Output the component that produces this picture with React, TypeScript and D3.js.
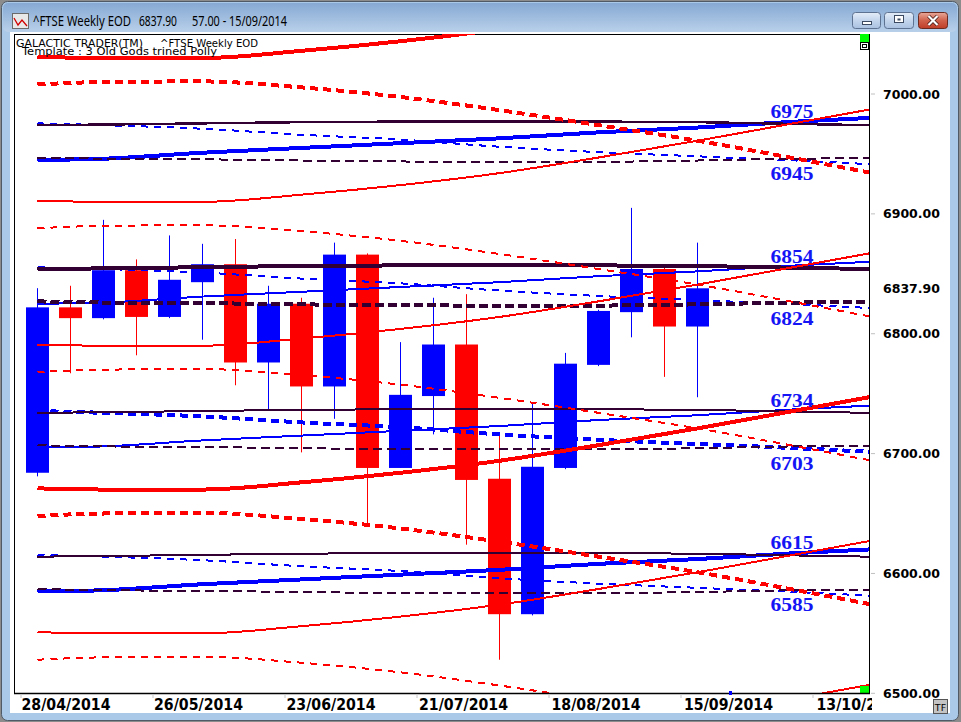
import React from 'react';
import * as d3 from 'd3';

// ---------- data ----------
const candleDates = [
  '28/04/2014', '05/05/2014', '12/05/2014', '19/05/2014', '26/05/2014', '02/06/2014', '09/06/2014',
  '16/06/2014', '23/06/2014', '30/06/2014', '07/07/2014', '14/07/2014', '21/07/2014', '28/07/2014',
  '04/08/2014', '11/08/2014', '18/08/2014', '25/08/2014', '01/09/2014', '08/09/2014', '15/09/2014',
];
const opens = [6684, 6822, 6813, 6853, 6814, 6843, 6858, 6776, 6825, 6756, 6866, 6688, 6748, 6791, 6679, 6566, 6688, 6774, 6818, 6854, 6806];
const highs = [6838, 6840, 6895, 6862, 6882, 6875, 6879, 6840, 6830, 6876, 6867, 6793, 6830, 6833, 6715, 6743, 6784, 6820, 6905, 6855, 6876];
const lows = [6681, 6767, 6812, 6782, 6813, 6795, 6757, 6736, 6701, 6729, 6642, 6688, 6716, 6624, 6528, 6565, 6687, 6773, 6797, 6764, 6747];
const closes = [6822, 6813, 6853, 6814, 6845, 6858, 6776, 6825, 6756, 6866, 6688, 6749, 6791, 6678, 6566, 6689, 6775, 6819, 6854, 6806, 6837.9];

// week positions at which the projection lines were read
const lineWeeks = [0, 2, 5, 8, 11, 14, 17, 20, 23, 25.2];

const redSolid0 = [7031, 7030, 7030, 7036, 7044, 7054, 7067, 7081, 7096, 7107];
const redSolid1 = [6911, 6910, 6910, 6916, 6924, 6934, 6947, 6961, 6976, 6987];
const redSolid2 = [6791, 6790, 6790, 6796, 6804, 6814, 6827, 6841, 6856, 6867];
const redSolid3 = [6671, 6670, 6670, 6676, 6684, 6694, 6707, 6721, 6736, 6747];
const redSolid4 = [6551, 6550, 6550, 6556, 6564, 6574, 6587, 6601, 6616, 6627];
const redSolid5 = [6431, 6430, 6430, 6436, 6444, 6454, 6467, 6481, 6496, 6507];

const redDash0 = [7008, 7010, 7010.5, 7005.5, 6997.5, 6986.5, 6974, 6961, 6946, 6934.5];
const redDash1 = [6888, 6890, 6890.5, 6885.5, 6877.5, 6866.5, 6854, 6841, 6826, 6814.5];
const redDash2 = [6768, 6770, 6770.5, 6765.5, 6757.5, 6746.5, 6734, 6721, 6706, 6694.5];
const redDash3 = [6648, 6650, 6650.5, 6645.5, 6637.5, 6626.5, 6614, 6601, 6586, 6574.5];
const redDash4 = [6528, 6530, 6530.5, 6525.5, 6517.5, 6506.5, 6494, 6481, 6466, 6454.5];

const blueSolid0 = [6945, 6946, 6951, 6955, 6959, 6963, 6968, 6972, 6977, 6980];
const blueSolid1 = [6825, 6826, 6831, 6835, 6839, 6843, 6848, 6852, 6857, 6860];
const blueSolid2 = [6705, 6706, 6711, 6715, 6719, 6723, 6728, 6732, 6737, 6740];
const blueSolid3 = [6585, 6586, 6591, 6595, 6599, 6603, 6608, 6612, 6617, 6620];

const blueDash0 = [6975.5, 6974, 6971, 6966, 6962, 6956, 6951.5, 6948, 6944.5, 6941.5];
const blueDash1 = [6855.5, 6854, 6851, 6846, 6842, 6836, 6831.5, 6828, 6824.5, 6821.5];
const blueDash2 = [6735.5, 6734, 6731, 6726, 6722, 6716, 6711.5, 6708, 6704.5, 6701.5];
const blueDash3 = [6615.5, 6614, 6611, 6606, 6602, 6596, 6591.5, 6588, 6584.5, 6581.5];

const darkSolid0 = [6974, 6974.5, 6975.5, 6976.5, 6977, 6977, 6977, 6976.5, 6975, 6974];
const darkSolid1 = [6854, 6854.5, 6855.5, 6856.5, 6857, 6857, 6857, 6856.5, 6855, 6854];
const darkSolid2 = [6734, 6734.5, 6735.5, 6736.5, 6737, 6737, 6737, 6736.5, 6735, 6734];
const darkSolid3 = [6614, 6614.5, 6615.5, 6616.5, 6617, 6617, 6617, 6616.5, 6615, 6614];

const darkDash0 = [6947, 6946, 6945.5, 6944.5, 6943.7, 6943.5, 6943.5, 6944.5, 6946, 6946.5];
const darkDash1 = [6827, 6826, 6825.5, 6824.5, 6823.7, 6823.5, 6823.5, 6824.5, 6826, 6826.5];
const darkDash2 = [6707, 6706, 6705.5, 6704.5, 6703.7, 6703.5, 6703.5, 6704.5, 6706, 6706.5];
const darkDash3 = [6587, 6586, 6585.5, 6584.5, 6583.7, 6583.5, 6583.5, 6584.5, 6586, 6586.5];

const levelLabels = [6975, 6945, 6854, 6824, 6734, 6703, 6615, 6585];
const priceTicks = [7000, 6900, 6800, 6700, 6600, 6500];
const lastClose = 6837.9;
const dateTickWeeks = [0, 4, 8, 12, 16, 20, 24];
const dateTickLabels = ['28/04/2014', '26/05/2014', '23/06/2014', '21/07/2014', '18/08/2014', '15/09/2014', '13/10/2014'];
const currentWeek = 21;

// ---------- styles ----------
const RED = '#ff0000';
const BLUE = '#0000ff';
const DARK = '#330033';
const THICK = 4;
const THIN = 2;

type Series = { vals: number[]; color: string; w: number; dash?: string };
const series: Series[] = [
  { vals: blueSolid0, color: BLUE, w: THICK },
  { vals: blueSolid1, color: BLUE, w: THIN },
  { vals: blueSolid2, color: BLUE, w: THIN },
  { vals: blueSolid3, color: BLUE, w: THICK },
  { vals: blueDash0, color: BLUE, w: THIN, dash: '7 6' },
  { vals: blueDash1, color: BLUE, w: THIN, dash: '7 6' },
  { vals: blueDash2, color: BLUE, w: THICK, dash: '8 5' },
  { vals: blueDash3, color: BLUE, w: THIN, dash: '7 6' },
  { vals: darkSolid0, color: DARK, w: 2.4 },
  { vals: darkSolid1, color: DARK, w: THICK },
  { vals: darkSolid2, color: DARK, w: THIN },
  { vals: darkSolid3, color: DARK, w: THIN },
  { vals: darkDash0, color: DARK, w: THIN, dash: '9 5' },
  { vals: darkDash1, color: DARK, w: THICK, dash: '9 4' },
  { vals: darkDash2, color: DARK, w: THIN, dash: '9 5' },
  { vals: darkDash3, color: DARK, w: THIN, dash: '9 5' },
  { vals: redSolid0, color: RED, w: THICK },
  { vals: redSolid1, color: RED, w: THIN },
  { vals: redSolid2, color: RED, w: THIN },
  { vals: redSolid3, color: RED, w: THICK },
  { vals: redSolid4, color: RED, w: THIN },
  { vals: redSolid5, color: RED, w: THIN },
  { vals: redDash0, color: RED, w: THICK, dash: '8 5' },
  { vals: redDash1, color: RED, w: THIN, dash: '7 6' },
  { vals: redDash2, color: RED, w: THIN, dash: '7 6' },
  { vals: redDash3, color: RED, w: THICK, dash: '8 5' },
  { vals: redDash4, color: RED, w: THIN, dash: '7 6' },
];

const PL = 14, PR = 869, PT = 34, PB = 693;

export default function App() {
  const x = d3.scaleLinear().domain([0, 20]).range([37.5, 697.5]);
  const y = d3.scaleLinear().domain([6500, 7000]).range([693.3, 94]);
  const lineGen = d3
    .line<number>()
    .x((_, i) => x(lineWeeks[i]))
    .y((v) => y(v))
    .curve(d3.curveMonotoneX);
  const bodyW = 23;

  return (
    <svg width={961} height={722} style={{ position: 'absolute', left: 0, top: 0 }} xmlns="http://www.w3.org/2000/svg">
      <defs>
        <linearGradient id="titleG" x1="0" y1="0" x2="0" y2="1">
          <stop offset="0" stopColor="#86a9d3" />
          <stop offset="1" stopColor="#b9d0ea" />
        </linearGradient>
        <linearGradient id="btnG" x1="0" y1="0" x2="0" y2="1">
          <stop offset="0" stopColor="#e4edf8" />
          <stop offset="0.5" stopColor="#c3d5ec" />
          <stop offset="1" stopColor="#a9c1e0" />
        </linearGradient>
        <linearGradient id="closeG" x1="0" y1="0" x2="0" y2="1">
          <stop offset="0" stopColor="#e9a99a" />
          <stop offset="0.5" stopColor="#d0614b" />
          <stop offset="1" stopColor="#bf3d28" />
        </linearGradient>
        <clipPath id="plotClip">
          <rect x={PL} y={PT} width={PR - PL} height={PB - PT} />
        </clipPath>
        <clipPath id="dateClip">
          <rect x={10} y={694} width={862} height={20} />
        </clipPath>
      </defs>

      {/* window chrome */}
      <rect x={0} y={0} width={961} height={722} fill="#8c8c8c" />
      <rect x={1.5} y={1.5} width={957} height={719} rx={6} fill="#aac8e7" stroke="#505a66" />
      <rect x={3} y={3} width={954} height={29} rx={5} fill="url(#titleG)" />
      <rect x={10} y={32} width={940} height={681} fill="#ffffff" />

      {/* title icon */}
      <rect x={12.5} y={13.5} width={16} height={15} fill="#e8e8e8" stroke="#6b6b6b" />
      <polyline points="14,18 18,25 22,20 27,26" fill="none" stroke="#d00000" strokeWidth={1.3} />
      <text x={33} y={26} fontFamily="'Noto Sans', 'DejaVu Sans', sans-serif" fontSize={13.5} fill="#000" textLength={98} lengthAdjust="spacingAndGlyphs">^FTSE Weekly EOD</text>
      <text x={139} y={26} fontFamily="'Noto Sans', 'DejaVu Sans', sans-serif" fontSize={13.5} fill="#000" textLength={38} lengthAdjust="spacingAndGlyphs">6837.90</text>
      <text x={192} y={26} fontFamily="'Noto Sans', 'DejaVu Sans', sans-serif" fontSize={13.5} fill="#000" textLength={95} lengthAdjust="spacingAndGlyphs">57.00 - 15/09/2014</text>

      {/* window buttons */}
      <rect x={852.5} y={12.5} width={28} height={16} rx={3} fill="url(#btnG)" stroke="#5d7190" />
      <rect x={862.5} y={21.5} width={9} height={3} fill="#ffffff" stroke="#3b4a60" />
      <rect x={884.5} y={12.5} width={29} height={16} rx={3} fill="url(#btnG)" stroke="#5d7190" />
      <rect x={894.5} y={15.5} width={9} height={7} fill="#ffffff" stroke="#3b4a60" />
      <rect x={897.5} y={18.5} width={3} height={2} fill="#3b4a60" />
      <rect x={918.5} y={12.5} width={29} height={16} rx={3} fill="url(#closeG)" stroke="#6b2a20" />
      <path d="M928.5,16 L937.5,25 M937.5,16 L928.5,25" stroke="#3a1410" strokeWidth={3.6} />
      <path d="M928.5,16 L937.5,25 M937.5,16 L928.5,25" stroke="#ffffff" strokeWidth={2.2} />

      {/* plot frame */}
      <line x1={PL + 0.5} y1={PT} x2={PL + 0.5} y2={PB} stroke="#000" />
      <line x1={PL} y1={PT + 0.5} x2={PR + 1} y2={PT + 0.5} stroke="#000" />
      <line x1={PR + 0.5} y1={PT} x2={PR + 0.5} y2={PB} stroke="#000" />

      <g clipPath="url(#plotClip)">
        {/* candles */}
        {opens.map((o, i) => {
          const c = closes[i];
          const col = c >= o ? BLUE : RED;
          const cx = x(i);
          const top = y(Math.max(o, c));
          const bot = y(Math.min(o, c));
          return (
            <g key={candleDates[i]}>
              <line x1={cx} x2={cx} y1={y(highs[i])} y2={y(lows[i])} stroke={col} strokeWidth={1} />
              <rect x={cx - bodyW / 2} y={top} width={bodyW} height={Math.max(1, bot - top)} fill={col} />
            </g>
          );
        })}
        {/* projection lines */}
        {series.map((s, k) => (
          <path
            key={k}
            d={lineGen(s.vals) || ''}
            fill="none"
            stroke={s.color}
            strokeWidth={s.w}
            strokeDasharray={s.dash}
            shapeRendering="crispEdges"
          />
        ))}
        {/* level labels */}
        {levelLabels.map((lv, k) => (
          <text
            key={lv}
            x={792}
            y={y(lv) + (k % 2 === 0 ? -6 : 20)}
            textAnchor="middle"
            fontFamily="'Liberation Serif', 'DejaVu Serif', serif"
            fontWeight="bold"
            fontSize={19}
            fill="#1414f5"
            textLength={43}
            lengthAdjust="spacingAndGlyphs"
          >
            {lv}
          </text>
        ))}
        <rect x={860} y={686} width={9} height={7} fill="#00ff00" />
      </g>

      {/* header texts */}
      <text x={16} y={46.5} fontFamily="Tahoma, 'DejaVu Sans', sans-serif" fontSize={10.5} fill="#000" textLength={127} lengthAdjust="spacingAndGlyphs">GALACTIC TRADER(TM)</text>
      <text x={160} y={46.5} fontFamily="Tahoma, 'DejaVu Sans', sans-serif" fontSize={10.5} fill="#000" textLength={98} lengthAdjust="spacingAndGlyphs">^FTSE Weekly EOD</text>
      <text x={22} y={55} fontFamily="Tahoma, 'DejaVu Sans', sans-serif" fontSize={10.5} fill="#000" textLength={195} lengthAdjust="spacingAndGlyphs">Template : 3 Old Gods trined Polly</text>

      {/* top-right widgets */}
      <rect x={860} y={34} width={9} height={8} fill="#00ff00" />
      <rect x={860.5} y={42.5} width={8} height={7} fill="#fff" stroke="#000" />
      <rect x={862.5} y={44.5} width={4} height={3} fill="#fff" stroke="#000" />

      {/* x axis */}
      <line x1={PL} y1={PB + 0.5} x2={PR + 1} y2={PB + 0.5} stroke="#000" strokeWidth={1.5} />
      <rect x={x(currentWeek) - 1.5} y={PB - 2} width={3} height={4} fill={BLUE} />
      <g clipPath="url(#dateClip)">
        {dateTickWeeks.map((w, k) => (
          <g key={w}>
            <line x1={x(w) - 16.5} x2={x(w) - 16.5} y1={PB + 1} y2={PB + 5} stroke="#c8c8c8" />
            <text
              x={x(w) - 16 + k * 0.5}
              y={710}
              fontFamily="'Liberation Sans Narrow', 'DejaVu Sans Condensed', 'Liberation Sans', sans-serif"
              fontWeight="bold"
              fontSize={15}
              fill="#000"
              textLength={89}
              lengthAdjust="spacingAndGlyphs"
            >
              {dateTickLabels[k]}
            </text>
          </g>
        ))}
      </g>

      {/* y axis */}
      {priceTicks.map((v) => (
        <g key={v}>
          <line x1={871} x2={875} y1={y(v)} y2={y(v)} stroke="#c0c0c0" />
          <text x={883} y={y(v)} dy="0.36em" fontFamily="'DejaVu Sans', Verdana, sans-serif" fontWeight="bold" fontSize={12.5} fill="#000" textLength={57} lengthAdjust="spacingAndGlyphs">
            {v.toFixed(2)}
          </text>
        </g>
      ))}
      <text x={883} y={y(lastClose)} dy="0.36em" fontFamily="'DejaVu Sans', Verdana, sans-serif" fontWeight="bold" fontSize={12.5} fill="#000" textLength={57} lengthAdjust="spacingAndGlyphs">
        {lastClose.toFixed(2)}
      </text>

      {/* TF button */}
      <rect x={933.5} y={699.5} width={14} height={14} fill="#c4c4c4" stroke="#555" />
      <text x={940.5} y={710.5} textAnchor="middle" fontFamily="'DejaVu Sans', sans-serif" fontSize={9.5} fill="#000">TF</text>
    </svg>
  );
}
